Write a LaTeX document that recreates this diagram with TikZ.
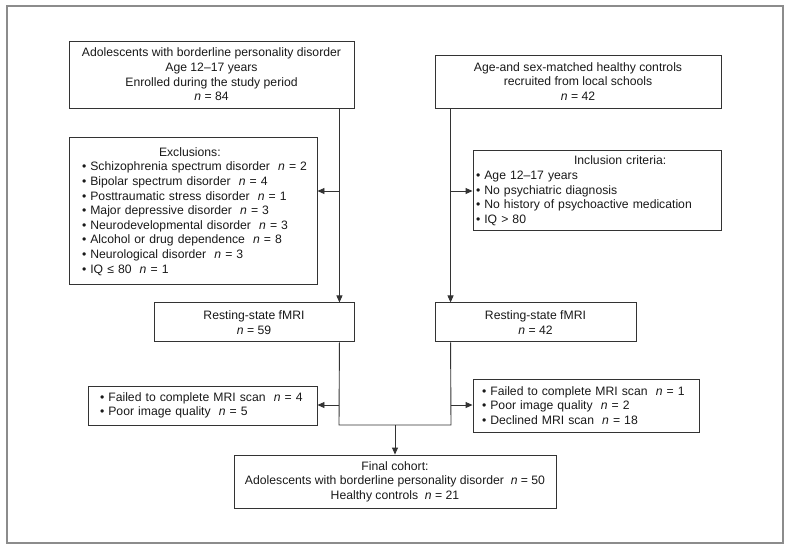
\documentclass[tikz,border=0pt]{standalone}
\usepackage{fontspec}
\setmainfont{Liberation Sans}
\usetikzlibrary{arrows.meta,positioning}

\newcommand{\nval}[1]{\ \ \textit{n} = #1}
\newcommand{\bul}[1]{\mbox{\textbullet\ #1}}

\begin{document}
\begin{tikzpicture}[
  x=1pt, y=-1pt,
  font=\fontsize{12.2}{14.6}\selectfont,
  box/.style={
    draw=black!80,
    line width=0.9pt,
    align=center,
    inner sep=0pt,
    text=black!90
  },
  listbox/.style={
    box,
    align=left
  },
  line/.style={line width=0.9pt, draw=black!80},
  arrow/.style={line, -{Triangle[length=7pt,width=6pt]}},
  frame/.style={draw=black!45, line width=1.2pt}
]

\useasboundingbox (0,0) rectangle (790,550);
\draw[frame] (7,6) rectangle (783,543);

\node[box, minimum width=285pt, minimum height=67pt] (bpd) at (211.5,74.5)
  {Adolescents with borderline personality disorder\\Age 12--17 years\\Enrolled during the study period\\\textit{n} = 84};
\node[box, minimum width=286pt, minimum height=53pt] (hc) at (578,81.5)
  {Age-and sex-matched healthy controls\\recruited from local schools\\\textit{n} = 42};

\node[listbox, text width=222pt, inner xsep=13pt, minimum height=147pt,
  below=29pt of bpd.south west, anchor=north west] (excl)
  {\hspace*{77pt}Exclusions:\\
   \bul{Schizophrenia spectrum disorder\nval{2}}\\
   \bul{Bipolar spectrum disorder\nval{4}}\\
   \bul{Posttraumatic stress disorder\nval{1}}\\
   \bul{Major depressive disorder\nval{3}}\\
   \bul{Neurodevelopmental disorder\nval{3}}\\
   \bul{Alcohol or drug dependence\nval{8}}\\
   \bul{Neurological disorder\nval{3}}\\
   \bul{IQ ≤ 80\nval{1}}};
\node[listbox, text width=242pt, inner xsep=3pt, minimum height=80pt,
  below=42pt of hc.south east, anchor=north east] (incl)
  {\hspace*{98pt}Inclusion criteria:\\
   \bul{Age 12--17 years}\\
   \bul{No psychiatric diagnosis}\\
   \bul{No history of psychoactive medication}\\
   \bul{IQ > 80}};

\node[box, minimum width=200pt, minimum height=39pt,
  below=194pt of bpd.south east, anchor=north east] (mriL)
  {Resting-state fMRI\\\textit{n} = 59};
\node[box, minimum width=201pt, minimum height=39pt,
  below=194pt of hc.south west, anchor=north west] (mriR)
  {Resting-state fMRI\\\textit{n} = 42};

\node[listbox, text width=205pt, inner xsep=12pt, minimum height=39pt] (lossL) at (202.5,405.5)
  {\bul{Failed to complete MRI scan\nval{4}}\\
   \bul{Poor image quality\nval{5}}};
\node[listbox, text width=208pt, inner xsep=9pt, minimum height=53pt] (lossR) at (586,405.5)
  {\bul{Failed to complete MRI scan\nval{1}}\\
   \bul{Poor image quality\nval{2}}\\
   \bul{Declined MRI scan\nval{18}}};

\node[box, minimum width=322pt, minimum height=53pt] (final) at (395,481.5)
  {Final cohort:\\Adolescents with borderline personality disorder\nval{50}\\Healthy controls\nval{21}};

% junctions
\coordinate (exL) at (339,191);
\coordinate (exR) at (451,191);
\coordinate (lsL) at (339,405);
\coordinate (lsR) at (451,405);
\coordinate (mgL) at (339,425);
\coordinate (mgR) at (451,425);

\draw[arrow] ([xshift=-15pt]bpd.south east) -- ([xshift=-15pt]mriL.north east);
\draw[arrow] ([xshift=16pt]hc.south west) -- ([xshift=16pt]mriR.north west);
\draw[arrow] (exL) -- (exL -| excl.east);
\draw[arrow] (exR) -- (exR -| incl.west);

\draw[line] ([xshift=-15pt]mriL.south east) -- (mgL) -- (mgR) -- ([xshift=16pt]mriR.south west);
\draw[arrow] (lsL) -- (lsL -| lossL.east);
\draw[arrow] (lsR) -- (lsR -| lossR.west);
\draw[arrow] (final.north |- mgL) -- (final.north);

\end{tikzpicture}
\end{document}
